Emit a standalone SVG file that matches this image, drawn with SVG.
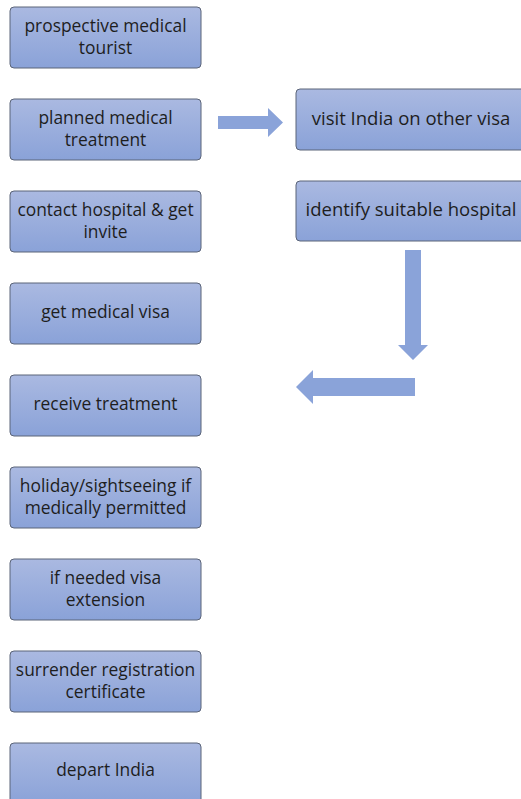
<svg xmlns="http://www.w3.org/2000/svg" width="521" height="799" viewBox="0 0 521 799">
<defs>
<linearGradient id="g" x1="0" y1="0" x2="0" y2="1">
<stop offset="0" stop-color="#aab9e1"/>
<stop offset="1" stop-color="#8aa2d8"/>
</linearGradient>
</defs>
<style>
.box{fill:url(#g);stroke:#5b6478;stroke-width:1}
.t{font-family:"Open Sans","Liberation Sans",Arial,sans-serif;font-size:17.4px;fill:#1e1e1e;text-anchor:middle}
.tr{font-family:"Open Sans","Liberation Sans",Arial,sans-serif;font-size:18.5px;fill:#1e1e1e;text-anchor:middle}
.arr{fill:#8aa3d9}
</style>
<rect width="521" height="799" fill="#fff"/>
<g id="n1"><rect class="box" x="10" y="7" width="191" height="61" rx="4"/><text class="t" x="105.5" y="32">prospective medical</text><text class="t" x="105.5" y="54">tourist</text></g>
<g id="n2"><rect class="box" x="10" y="99" width="191" height="61" rx="4"/><text class="t" x="105.5" y="124">planned medical</text><text class="t" x="105.5" y="146">treatment</text></g>
<g id="n3"><rect class="box" x="10" y="191" width="191" height="61" rx="4"/><text class="t" x="105.5" y="216">contact hospital &amp; get</text><text class="t" x="105.5" y="238">invite</text></g>
<g id="n4"><rect class="box" x="10" y="283" width="191" height="61" rx="4"/><text class="t" x="105.5" y="318">get medical visa</text></g>
<g id="n5"><rect class="box" x="10" y="375" width="191" height="61" rx="4"/><text class="t" x="105.5" y="410">receive treatment</text></g>
<g id="n6"><rect class="box" x="10" y="467" width="191" height="61" rx="4"/><text class="t" x="105.5" y="492">holiday/sightseeing if</text><text class="t" x="105.5" y="514">medically permitted</text></g>
<g id="n7"><rect class="box" x="10" y="559" width="191" height="61" rx="4"/><text class="t" x="105.5" y="584">if needed visa</text><text class="t" x="105.5" y="606">extension</text></g>
<g id="n8"><rect class="box" x="10" y="651" width="191" height="61" rx="4"/><text class="t" x="105.5" y="676">surrender registration</text><text class="t" x="105.5" y="698">certificate</text></g>
<g id="n9"><rect class="box" x="10" y="743" width="191" height="61" rx="4"/><text class="t" x="105.5" y="776">depart India</text></g>
<g id="n10"><rect class="box" x="296" y="89" width="240" height="61" rx="4"/><text class="tr" x="411" y="125">visit India on other visa</text></g>
<g id="n11"><rect class="box" x="296" y="181" width="240" height="60" rx="4"/><text class="tr" x="411" y="216">identify suitable hospital</text></g>
<g id="connectors">
<polygon class="arr" points="218,116 268,116 268,108 283,122.5 268,137 268,129 218,129"/>
<polygon class="arr" points="405,250 421,250 421,345 428,345 413,360 398,345 405,345"/>
<polygon class="arr" points="415,378 313,378 313,370 296,387 313,404 313,396 415,396"/>
</g>
</svg>
